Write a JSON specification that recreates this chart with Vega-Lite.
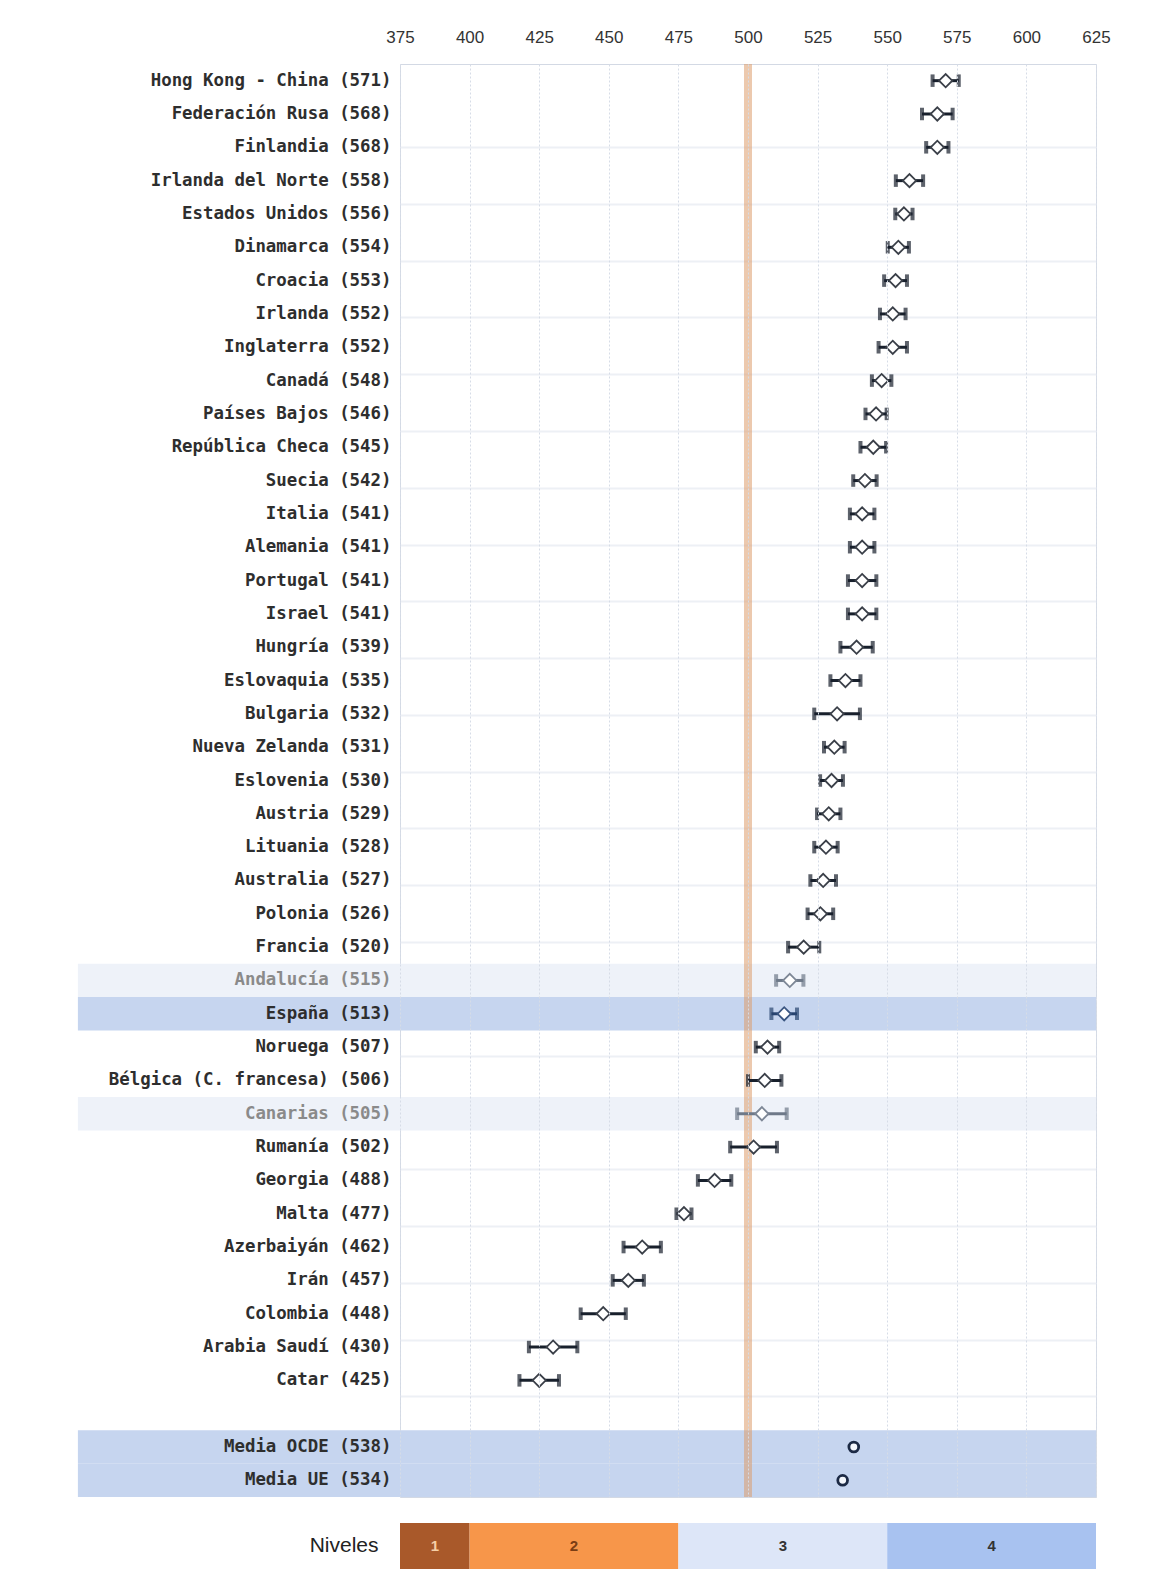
{
  "$schema": "https://vega.github.io/schema/vega-lite/v6.json",
  "background": "white",
  "padding": {"left": 77, "top": 27, "right": 8, "bottom": 4},
  "config": {"font": "Liberation Sans", "view": {"stroke": null}},
  "bounds": "flush",
  "spacing": 26,
  "vconcat": [
    {
      "width": 696,
      "height": 1433,
      "view": {"stroke": "#d3d9e4"},
      "data": {"values": [
        {"label": "Hong Kong - China (571)", "score": 571, "lo": 566.3, "hi": 575.7, "kind": "país"},
        {"label": "Federación Rusa (568)", "score": 568, "lo": 562.5, "hi": 573.5, "kind": "país"},
        {"label": "Finlandia (568)", "score": 568, "lo": 564.0, "hi": 572.0, "kind": "país"},
        {"label": "Irlanda del Norte (558)", "score": 558, "lo": 553.1, "hi": 562.9, "kind": "país"},
        {"label": "Estados Unidos (556)", "score": 556, "lo": 552.9, "hi": 559.1, "kind": "país"},
        {"label": "Dinamarca (554)", "score": 554, "lo": 550.2, "hi": 557.8, "kind": "país"},
        {"label": "Croacia (553)", "score": 553, "lo": 548.9, "hi": 557.1, "kind": "país"},
        {"label": "Irlanda (552)", "score": 552, "lo": 547.4, "hi": 556.6, "kind": "país"},
        {"label": "Inglaterra (552)", "score": 552, "lo": 546.9, "hi": 557.1, "kind": "país"},
        {"label": "Canadá (548)", "score": 548, "lo": 544.5, "hi": 551.5, "kind": "país"},
        {"label": "Países Bajos (546)", "score": 546, "lo": 542.2, "hi": 549.8, "kind": "país"},
        {"label": "República Checa (545)", "score": 545, "lo": 540.4, "hi": 549.6, "kind": "país"},
        {"label": "Suecia (542)", "score": 542, "lo": 537.8, "hi": 546.2, "kind": "país"},
        {"label": "Italia (541)", "score": 541, "lo": 536.6, "hi": 545.4, "kind": "país"},
        {"label": "Alemania (541)", "score": 541, "lo": 536.6, "hi": 545.4, "kind": "país"},
        {"label": "Portugal (541)", "score": 541, "lo": 535.9, "hi": 546.1, "kind": "país"},
        {"label": "Israel (541)", "score": 541, "lo": 535.9, "hi": 546.1, "kind": "país"},
        {"label": "Hungría (539)", "score": 539, "lo": 533.2, "hi": 544.8, "kind": "país"},
        {"label": "Eslovaquia (535)", "score": 535, "lo": 529.6, "hi": 540.4, "kind": "país"},
        {"label": "Bulgaria (532)", "score": 532, "lo": 523.8, "hi": 540.2, "kind": "país"},
        {"label": "Nueva Zelanda (531)", "score": 531, "lo": 527.3, "hi": 534.7, "kind": "país"},
        {"label": "Eslovenia (530)", "score": 530, "lo": 525.9, "hi": 534.1, "kind": "país"},
        {"label": "Austria (529)", "score": 529, "lo": 524.8, "hi": 533.2, "kind": "país"},
        {"label": "Lituania (528)", "score": 528, "lo": 523.8, "hi": 532.2, "kind": "país"},
        {"label": "Australia (527)", "score": 527, "lo": 522.4, "hi": 531.6, "kind": "país"},
        {"label": "Polonia (526)", "score": 526, "lo": 521.4, "hi": 530.6, "kind": "país"},
        {"label": "Francia (520)", "score": 520, "lo": 514.4, "hi": 525.6, "kind": "país"},
        {"label": "Andalucía (515)", "score": 515, "lo": 510.1, "hi": 519.9, "kind": "comunidad"},
        {"label": "España (513)", "score": 513, "lo": 508.4, "hi": 517.6, "kind": "España"},
        {"label": "Noruega (507)", "score": 507, "lo": 502.8, "hi": 511.2, "kind": "país"},
        {"label": "Bélgica (C. francesa) (506)", "score": 506, "lo": 500.0, "hi": 512.0, "kind": "país"},
        {"label": "Canarias (505)", "score": 505, "lo": 496.1, "hi": 513.9, "kind": "comunidad"},
        {"label": "Rumanía (502)", "score": 502, "lo": 493.6, "hi": 510.4, "kind": "país"},
        {"label": "Georgia (488)", "score": 488, "lo": 482.0, "hi": 494.0, "kind": "país"},
        {"label": "Malta (477)", "score": 477, "lo": 474.3, "hi": 479.7, "kind": "país"},
        {"label": "Azerbaiyán (462)", "score": 462, "lo": 455.3, "hi": 468.7, "kind": "país"},
        {"label": "Irán (457)", "score": 457, "lo": 451.4, "hi": 462.6, "kind": "país"},
        {"label": "Colombia (448)", "score": 448, "lo": 439.9, "hi": 456.1, "kind": "país"},
        {"label": "Arabia Saudí (430)", "score": 430, "lo": 421.3, "hi": 438.7, "kind": "país"},
        {"label": "Catar (425)", "score": 425, "lo": 417.9, "hi": 432.1, "kind": "país"},
        {"label": " ", "score": null, "lo": null, "hi": null, "kind": "vacío"},
        {"label": "Media OCDE (538)", "score": 538, "lo": null, "hi": null, "kind": "media"},
        {"label": "Media UE (534)", "score": 534, "lo": null, "hi": null, "kind": "media"}
      ]},
      "resolve": {"scale": {"y": "independent"}, "axis": {"y": "independent"}},
      "layer": [
        {
          "data": {"values": [{"g": -1.46}, {"g": 23.77}]},
          "mark": {"type": "point", "opacity": 0},
          "encoding": {
            "y": {"field": "g", "type": "quantitative",
              "scale": {"domain": [-1.46, 23.77], "nice": false, "zero": false, "reverse": true},
              "axis": {"orient": "right", "values": [0,1,2,3,4,5,6,7,8,9,10,11,12,13,14,15,16,17,18,19,20,21,22],
                "labels": false, "ticks": false, "domain": false, "title": null,
                "grid": true, "gridColor": "#edf0f5", "gridWidth": 2, "zindex": 0}}
          }
        },
        {
          "layer": [
            {
              "transform": [{"filter": "datum.kind === 'comunidad' || datum.kind === 'España' || datum.kind === 'media'"}],
              "mark": {"type": "rect"},
              "encoding": {
                "y": {"field": "label", "type": "nominal",
                  "scale": {"domain": ["Hong Kong - China (571)","Federación Rusa (568)","Finlandia (568)","Irlanda del Norte (558)","Estados Unidos (556)","Dinamarca (554)","Croacia (553)","Irlanda (552)","Inglaterra (552)","Canadá (548)","Países Bajos (546)","República Checa (545)","Suecia (542)","Italia (541)","Alemania (541)","Portugal (541)","Israel (541)","Hungría (539)","Eslovaquia (535)","Bulgaria (532)","Nueva Zelanda (531)","Eslovenia (530)","Austria (529)","Lituania (528)","Australia (527)","Polonia (526)","Francia (520)","Andalucía (515)","España (513)","Noruega (507)","Bélgica (C. francesa) (506)","Canarias (505)","Rumanía (502)","Georgia (488)","Malta (477)","Azerbaiyán (462)","Irán (457)","Colombia (448)","Arabia Saudí (430)","Catar (425)"," ","Media OCDE (538)","Media UE (534)"],
                    "paddingInner": 0, "paddingOuter": 0},
                  "axis": {"title": null, "domain": false, "ticks": false, "grid": false, "labelPadding": 9,
                    "labelFont": "DejaVu Sans Mono", "labelFontSize": 17.4, "labelFontWeight": 600, "labelLimit": 400, "zindex": 1,
                    "labelColor": {"condition": {"test": "datum.value === 'Andalucía (515)' || datum.value === 'Canarias (505)'", "value": "#8a8a8a"}, "value": "#2e2e2e"}}},
                "x": {"datum": 259.3, "type": "quantitative",
                  "scale": {"domain": [375, 625], "nice": false, "zero": false},
                  "axis": {"orient": "top", "title": null, "values": [375,400,425,450,475,500,525,550,575,600,625],
                    "domain": false, "ticks": false, "labelPadding": 18, "labelFont": "Liberation Sans",
                    "labelFontSize": 17, "labelColor": "#333", "labelFlush": false,
                    "grid": true, "gridColor": "#d6dce7", "gridDash": [2, 2], "zindex": 1}},
                "x2": {"datum": 625},
                "color": {"condition": {"test": "datum.kind === 'comunidad'", "value": "#eef2f9"}, "value": "#c6d5ef"}
              }
            },
            {
              "data": {"values": [{"ref": 500}]},
              "mark": {"type": "rule", "color": "#dc9c6c", "opacity": 0.55, "strokeWidth": 8},
              "encoding": {"x": {"field": "ref", "type": "quantitative"}}
            },
            {
              "transform": [{"filter": "isValid(datum.lo)"}],
              "mark": {"type": "rule", "strokeWidth": 3},
              "encoding": {
                "y": {"field": "label", "type": "nominal"},
                "x": {"field": "lo", "type": "quantitative"},
                "x2": {"field": "hi"},
                "color": {"condition": [{"test": "datum.kind === 'comunidad'", "value": "#6e7989"}, {"test": "datum.kind === 'España'", "value": "#28446f"}], "value": "#18202c"}
              }
            },
            {
              "transform": [{"filter": "isValid(datum.lo)"}],
              "mark": {"type": "tick", "size": 12.5, "thickness": 4},
              "encoding": {
                "y": {"field": "label", "type": "nominal"},
                "x": {"field": "lo", "type": "quantitative"},
                "color": {"condition": [{"test": "datum.kind === 'comunidad'", "value": "#6e7989"}, {"test": "datum.kind === 'España'", "value": "#28446f"}], "value": "#18202c"}
              }
            },
            {
              "transform": [{"filter": "isValid(datum.lo)"}],
              "mark": {"type": "tick", "size": 12.5, "thickness": 4},
              "encoding": {
                "y": {"field": "label", "type": "nominal"},
                "x": {"field": "hi", "type": "quantitative"},
                "color": {"condition": [{"test": "datum.kind === 'comunidad'", "value": "#6e7989"}, {"test": "datum.kind === 'España'", "value": "#28446f"}], "value": "#18202c"}
              }
            },
            {
              "transform": [{"filter": "isValid(datum.lo)"}],
              "mark": {"type": "point", "shape": "diamond", "size": 175, "filled": true, "fill": "white", "strokeWidth": 1.8, "opacity": 1},
              "encoding": {
                "y": {"field": "label", "type": "nominal"},
                "x": {"field": "score", "type": "quantitative"},
                "stroke": {"condition": [{"test": "datum.kind === 'comunidad'", "value": "#7d8796"}, {"test": "datum.kind === 'España'", "value": "#3a5580"}], "value": "#3a3f48"}
              }
            },
            {
              "transform": [{"filter": "datum.kind === 'media'"}],
              "mark": {"type": "point", "shape": "circle", "size": 95, "filled": true, "fill": "#f4f7fc", "stroke": "#1c2a45", "strokeWidth": 2.8, "opacity": 1},
              "encoding": {
                "y": {"field": "label", "type": "nominal"},
                "x": {"field": "score", "type": "quantitative"}
              }
            }
          ]
        }
      ]
    },
    {
      "width": 696,
      "height": 46,
      "view": {"stroke": null},
      "data": {"values": [
        {"nivel": "1", "desde": 375, "hasta": 400, "centro": 387.5, "fila": "Niveles"},
        {"nivel": "2", "desde": 400, "hasta": 475, "centro": 437.5, "fila": "Niveles"},
        {"nivel": "3", "desde": 475, "hasta": 550, "centro": 512.5, "fila": "Niveles"},
        {"nivel": "4", "desde": 550, "hasta": 625, "centro": 587.5, "fila": "Niveles"}
      ]},
      "layer": [
        {
          "mark": {"type": "rect"},
          "encoding": {
            "x": {"field": "desde", "type": "quantitative", "scale": {"domain": [375, 625], "nice": false, "zero": false}, "axis": null},
            "x2": {"field": "hasta"},
            "y": {"field": "fila", "type": "nominal", "scale": {"paddingInner": 0, "paddingOuter": 0},
              "axis": {"title": null, "domain": false, "ticks": false, "labelFont": "Liberation Sans", "labelFontSize": 21, "labelColor": "#222", "labelPadding": 22}},
            "color": {"field": "nivel", "type": "nominal", "scale": {"domain": ["1", "2", "3", "4"], "range": ["#a9592a", "#f7964a", "#dde6f8", "#a8c2f0"]}, "legend": null}
          }
        },
        {
          "mark": {"type": "text", "font": "Liberation Sans", "fontSize": 15, "fontWeight": "bold"},
          "encoding": {
            "x": {"field": "centro", "type": "quantitative"},
            "y": {"field": "fila", "type": "nominal"},
            "text": {"field": "nivel"},
            "color": {"condition": [{"test": "datum.nivel === '1'", "value": "#f6cfa6"}, {"test": "datum.nivel === '2'", "value": "#7a3d14"}], "value": "#333"}
          }
        }
      ]
    }
  ]
}
